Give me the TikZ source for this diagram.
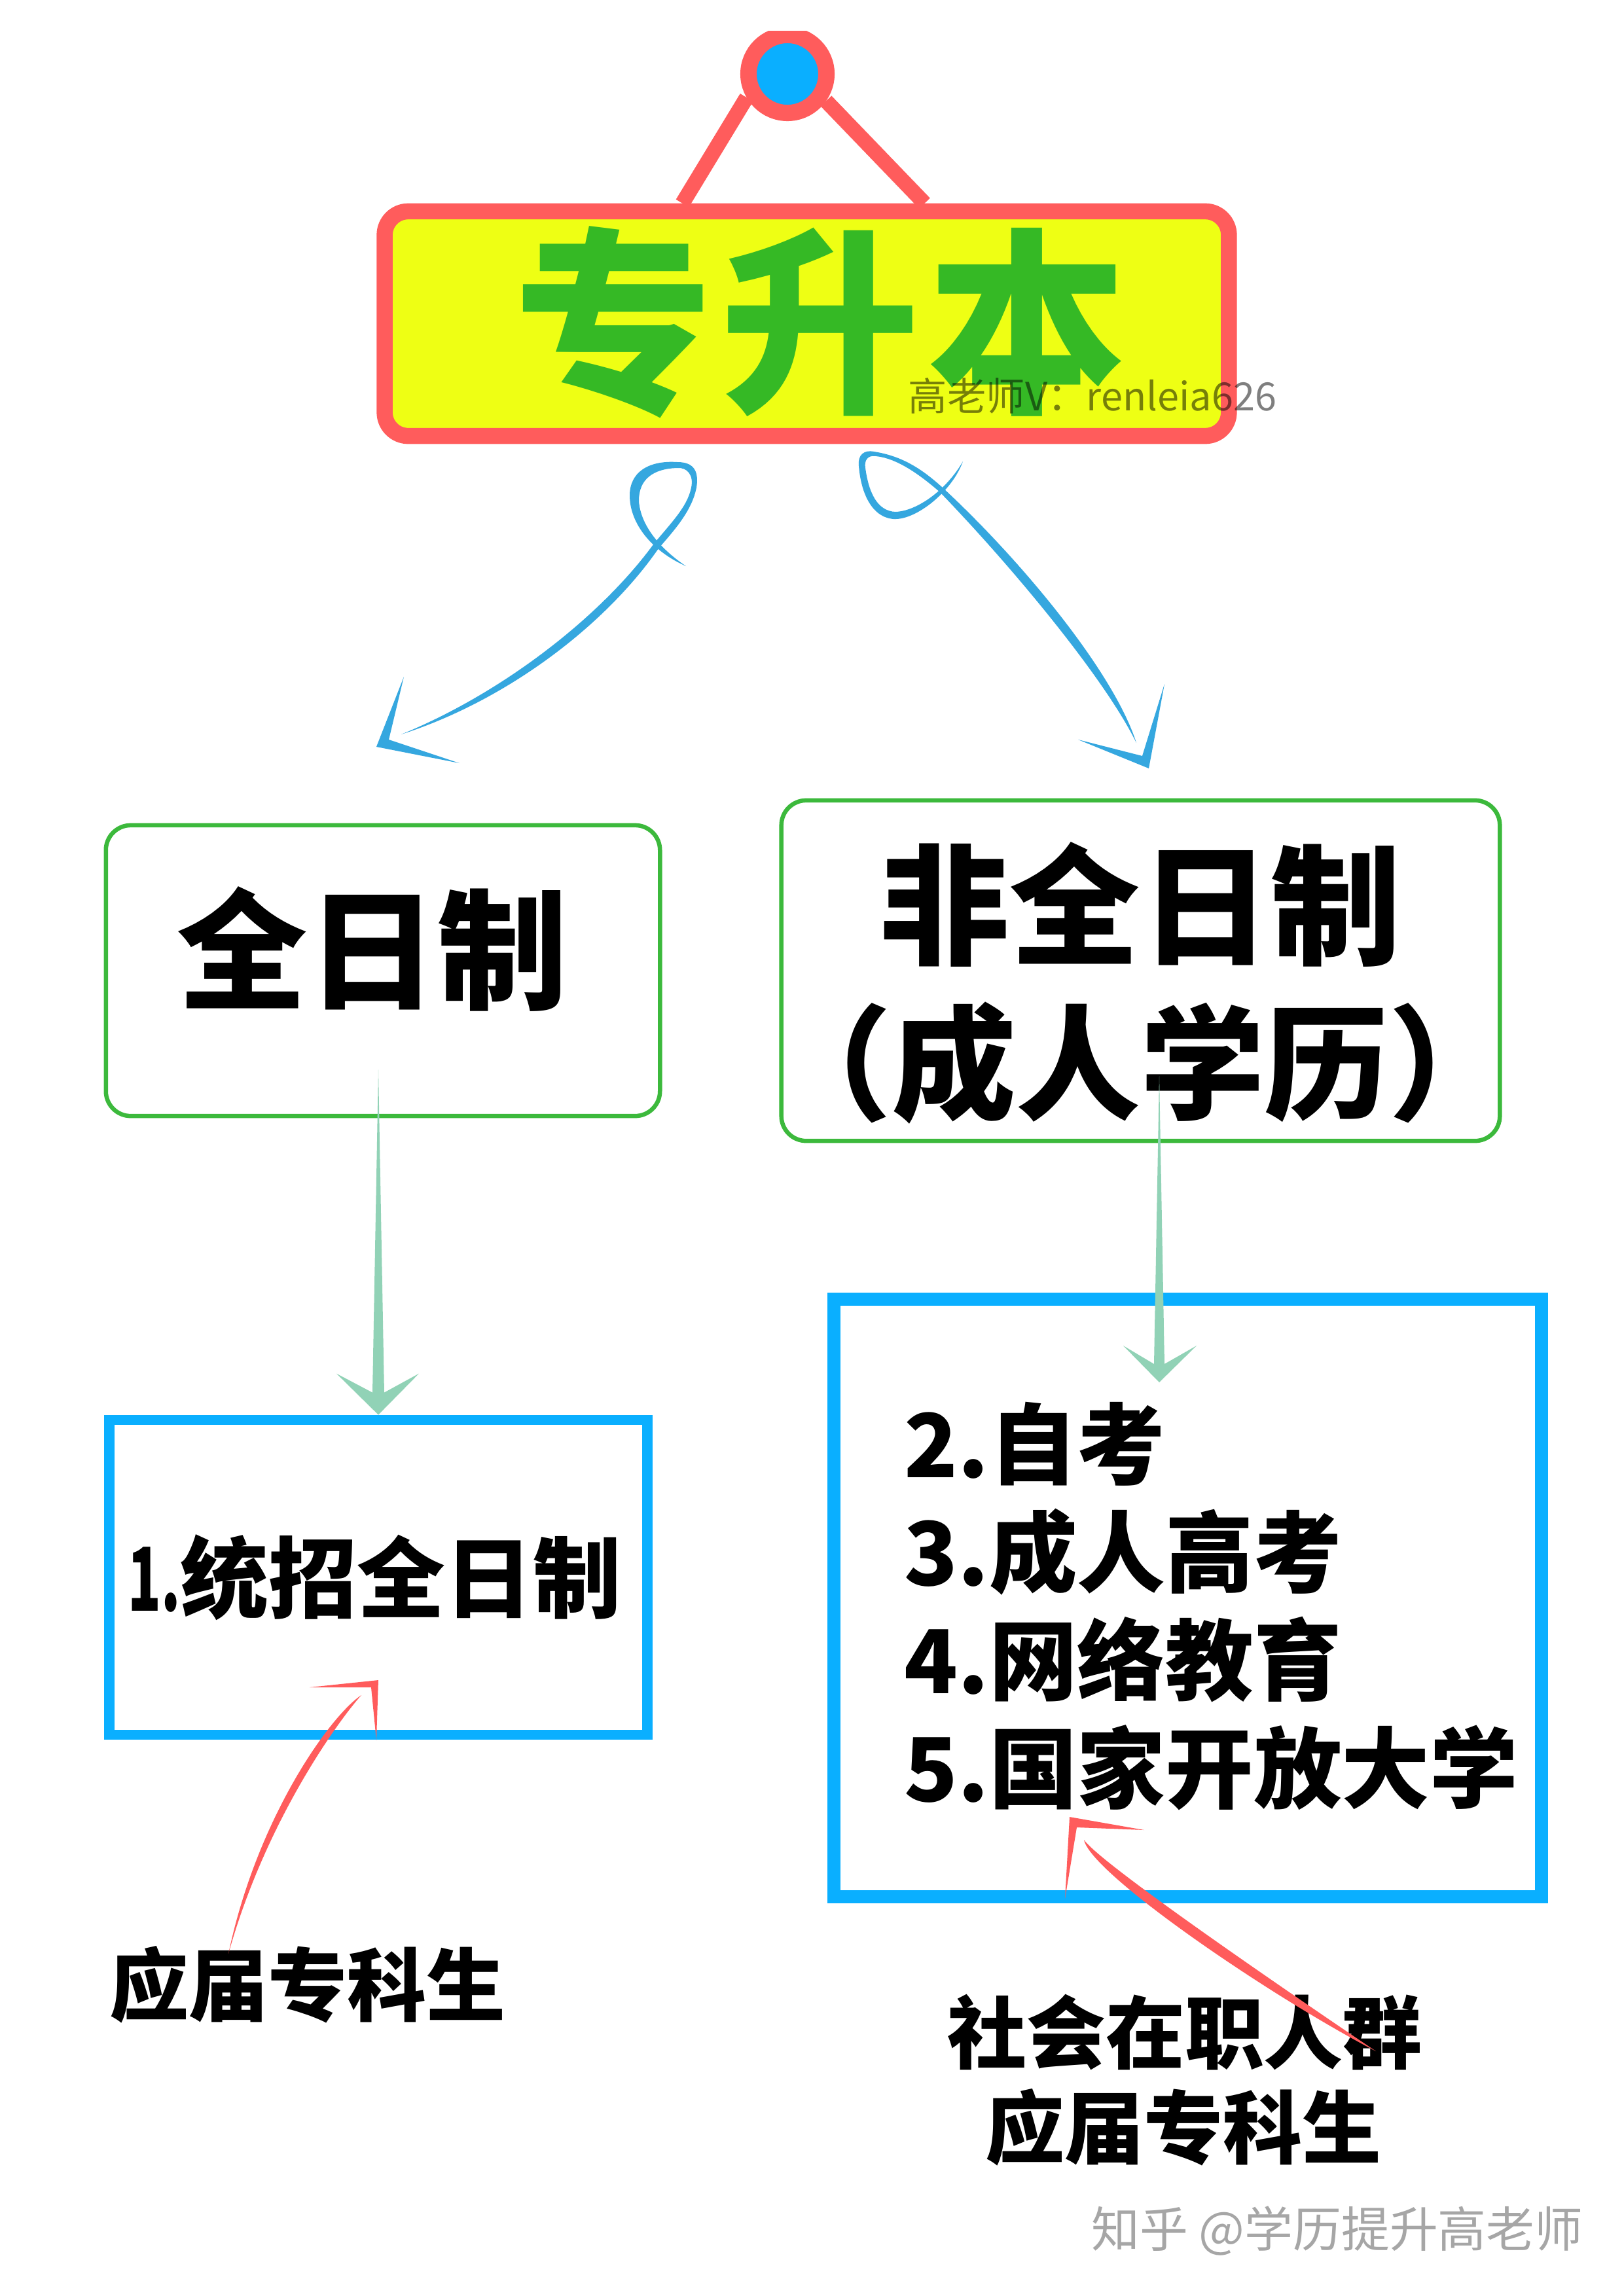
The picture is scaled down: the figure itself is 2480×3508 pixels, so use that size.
\documentclass[tikz,border=0pt]{standalone}
\usepackage{fontspec}
\usepackage{graphicx}
\usetikzlibrary{calc}
\setmainfont{Noto Sans CJK SC}
\newfontfamily\cjkheavy{Noto Sans CJK SC Black}
\newfontfamily\cjkplain{Noto Sans CJK SC}
\definecolor{signred}{HTML}{FF5C5C}
\definecolor{signyellow}{HTML}{EEFF14}
\definecolor{signgreen}{HTML}{35B925}
\definecolor{boxgreen}{HTML}{3CB93C}
\definecolor{boxblue}{HTML}{0AAFFF}
\definecolor{curveblue}{HTML}{35A7DF}
\definecolor{mint}{HTML}{91D2B6}
\tikzset{
  softbox/.style={draw=boxgreen,line width=0.065cm,rounded corners=0.38cm,fill=white,inner sep=0pt},
  bluebox/.style={draw=boxblue,inner sep=0pt,fill=white},
  heavytext/.style={font=\cjkheavy,text=black,inner sep=0pt,align=center},
  redcurve/.style={fill=signred,draw=none},
  bluecurve/.style={fill=curveblue,draw=none},
  mintarrow/.style={fill=mint,draw=none},
}
\begin{document}
\begin{tikzpicture}[x=0.01cm,y=-0.01cm]
\useasboundingbox (0,0) rectangle (2480,3508);
\fill[white] (0,0) rectangle (2480,3508);

% sign
\node[draw=signred,line width=0.245cm,rounded corners=0.36cm,fill=signyellow,minimum width=12.89cm,minimum height=3.43cm,inner sep=0pt] (title) at (1232.5,494.5) {};
\begin{scope}
\clip (1000,47) rectangle (1500,400);
\node[circle,draw=signred,fill=boxblue,line width=0.25cm,minimum size=1.19cm,inner sep=0pt] (pin) at (1203,113) {};
\end{scope}
\draw[signred,line width=0.23cm] (pin.210) -- ($(title.north)+(-190,0)$);
\draw[signred,line width=0.23cm] (pin.-35) -- ($(title.north)+(180,0)$);
\node[font=\cjkheavy\fontsize{86.2pt}{90pt}\selectfont,text=signgreen,inner sep=0pt] (titletext) at (1253,492) {专\kern3.7pt升\kern3.7pt本};
\node[font=\cjkplain\fontsize{16.9pt}{18pt}\selectfont,text=black,text opacity=0.5,inner sep=0pt] (wm) at (1669,605) {高老师V：renleia626};

% middle boxes
\node[softbox,minimum width=8.46cm,minimum height=4.44cm] (full) at (585,1483) {};
\node[softbox,minimum width=10.97cm,minimum height=5.20cm] (part) at (1742.5,1483) {};
\node[heavytext,font=\cjkheavy\fontsize{56.6pt}{60pt}\selectfont] (fulltext) at (569,1450) {全日制};
\node[heavytext,font=\cjkheavy] (parttext) at (1742,1502) {\fontsize{56.6pt}{67pt}\selectfont 非全日制\\[14pt]\fontsize{54pt}{67pt}\selectfont （成人学历）};

% lower boxes
\node[bluebox,line width=0.155cm,minimum width=8.22cm,minimum height=4.81cm] (edu) at (578,2410) {};
\node[bluebox,line width=0.20cm,minimum width=10.81cm,minimum height=9.13cm] (adult) at (1814.5,2441.5) {};
\node[heavytext,anchor=west,font=\cjkheavy\fontsize{38.3pt}{47pt}\selectfont] (edutext) at (195,2410) {\scalebox{0.62}[1]{1.}统招全日制};
\node[heavytext,anchor=west,align=left,font=\cjkheavy\fontsize{38.3pt}{47pt}\selectfont] (adulttext) at (1381,2454) {2.自考\\3.成人高考\\4.网络教育\\5.国家开放大学};

% who
\node[heavytext,font=\cjkheavy\fontsize{34.4pt}{40pt}\selectfont] (who1) at (470,3032) {应届专科生};
\node[heavytext,font=\cjkheavy\fontsize{34.4pt}{40pt}\selectfont] (who2) at (1810,3105) {社会在职人群};
\node[heavytext,font=\cjkheavy\fontsize{34.4pt}{40pt}\selectfont] (who3) at (1808,3250) {应届专科生};
\node[font=\cjkplain\fontsize{21pt}{24pt}\selectfont,text=black!35,inner sep=0pt] (zhihu) at (2043,3408) {知乎 @学历提升高老师};

% blue curved arrows
\coordinate (blS) at (1048,865);
\coordinate (blT) at (613,1122);
\coordinate (blH) at (575,1141);
\fill[bluecurve] (blS) .. controls (996,842) and (962,800) .. (962,757)
  .. controls (962,722) and (990,703) .. (1035,706)
  .. controls (1060,706) and (1068,720) .. (1064,745)
  .. controls (1057,780) and (1032,808) .. (1006,838)
  .. controls (925,955) and (775,1070) .. (blT)
  .. controls (765,1060) and (915,945) .. (998,832)
  .. controls (1024,800) and (1050,775) .. (1056,745)
  .. controls (1060,726) and (1050,714) .. (1035,715)
  .. controls (998,716) and (976,732) .. (976,765)
  .. controls (978,800) and (1005,836) .. (blS) -- cycle;
\fill[bluecurve] (blH) -- ($(blH)+(42,-107)$) -- ($(blH)+(19,-11)$) -- ($(blH)+(127,25)$) -- cycle;
\coordinate (brS) at (1471,705);
\coordinate (brT) at (1736,1135);
\coordinate (brH) at (1755,1174);
\fill[bluecurve] (brS) .. controls (1455,750) and (1400,795) .. (1365,793)
  .. controls (1330,790) and (1315,750) .. (1312,712)
  .. controls (1310,695) and (1320,687) .. (1335,690)
  .. controls (1380,697) and (1410,718) .. (1440,745)
  .. controls (1562,858) and (1702,1028) .. (brT)
  .. controls (1690,1040) and (1550,870) .. (1436,752)
  .. controls (1405,725) and (1370,700) .. (1338,697)
  .. controls (1326,695) and (1320,703) .. (1322,715)
  .. controls (1327,752) and (1340,781) .. (1368,782)
  .. controls (1400,781) and (1445,750) .. (brS) -- cycle;
\fill[bluecurve] (brH) -- ($(brH)+(24,-129)$) -- ($(brH)+(-10,-19)$) -- ($(brH)+(-108,-44)$) -- cycle;

% mint arrows
\coordinate (mlS) at ($(full.south)+(-7,-74)$);
\coordinate (mlT) at ($(edu.north)+(0,0)$);
\fill[mintarrow] (mlS) -- ($(mlT)+(9,-34)$) -- ($(mlT)+(62,-63)$) -- (mlT) -- ($(mlT)+(-64,-63)$) -- ($(mlT)+(-9,-34)$) -- cycle;
\coordinate (mrS) at (1771,1644);
\coordinate (mrT) at (1771,2112);
\fill[mintarrow] (mrS) -- ($(mrT)+(8,-28)$) -- ($(mrT)+(57,-56)$) -- (mrT) -- ($(mrT)+(-55,-56)$) -- ($(mrT)+(-8,-28)$) -- cycle;

% red curved arrows
\coordinate (rlS) at (349,2985);
\coordinate (rlT) at (552,2590);
\coordinate (rlH) at (578,2567);
\fill[redcurve] (rlS) .. controls (393,2776) and (505,2621) .. (rlT) .. controls (516,2630) and (405,2784) .. (rlS) -- cycle;
\fill[redcurve] (rlH) -- ($(rlH)+(-105,11)$) -- ($(rlH)+(-11,11)$) -- ($(rlH)+(-3,92)$) -- cycle;
\coordinate (rrS) at (2102,3134);
\coordinate (rrT) at (1656,2811);
\coordinate (rrH) at (1634,2776);
\fill[redcurve] (rrS) .. controls (1951,3032) and (1680,2846) .. (rrT) .. controls (1666,2862) and (1937,3048) .. (rrS) -- cycle;
\fill[redcurve] (rrH) -- ($(rrH)+(114,20)$) -- ($(rrH)+(11,16)$) -- ($(rrH)+(-7,125)$) -- cycle;
\end{tikzpicture}
\end{document}
